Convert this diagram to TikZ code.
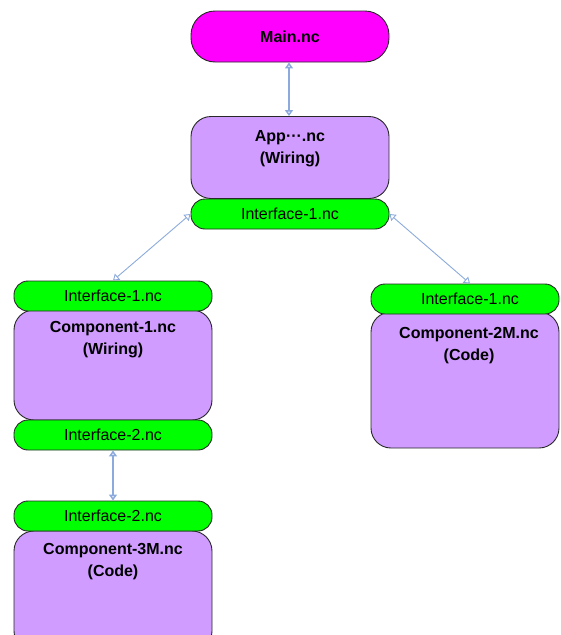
\documentclass[tikz,border=0pt]{standalone}
\usepackage{fontspec}
\setmainfont{Liberation Sans}
\usetikzlibrary{arrows.meta}
\definecolor{mag}{RGB}{255,0,255}
\definecolor{lav}{RGB}{208,156,255}
\definecolor{grn}{RGB}{0,255,0}
\definecolor{arr}{RGB}{140,170,220}
\definecolor{edge}{RGB}{40,40,40}
\tikzset{
  boxbase/.style={draw=edge, line width=0.9pt, inner sep=0pt, anchor=center},
  magbox/.style={boxbase, fill=mag, rounded corners=24pt, minimum width=198pt, minimum height=51pt,
    font=\fontsize{16}{22}\selectfont\bfseries},
  lavbox/.style={boxbase, fill=lav, rounded corners=20pt, minimum width=198pt},
  grnbox/.style={boxbase, fill=grn, rounded corners=14pt, minimum width=198pt, minimum height=30pt,
    font=\fontsize{16}{22}\selectfont},
  boxtext/.style={anchor=north, align=center, inner sep=0pt, font=\fontsize{16}{22}\selectfont\bfseries},
  link/.style={draw=arr, line width=0.9pt, {Triangle[open,length=6pt,width=8pt]}-{Triangle[open,length=6pt,width=8pt]}},
  thicklink/.style={link, line width=2pt}
}
\begin{document}
\begin{tikzpicture}[x=1pt,y=-1pt]
\useasboundingbox (0,0) rectangle (560,635);
\clip (0,0) rectangle (560,635);
% top
\node[magbox] (main) at (290,36.5) {Main.nc};
\node[lavbox, minimum height=82pt] (app) at (290,157.5) {};
\node[boxtext] (apptxt) at (290,130) {App···.nc\\(Wiring)};
\node[grnbox] (appif) at (290,214) {Interface-1.nc};
% left column
\node[lavbox, minimum height=110pt] (c1) at (113,365) {};
\node[grnbox] (c1if) at (113,296) {Interface-1.nc};
\node[boxtext] (c1txt) at (113,321) {Component-1.nc\\(Wiring)};
\node[grnbox] (c1if2) at (113,435) {Interface-2.nc};
\node[lavbox, minimum height=120pt] (c3) at (113,591) {};
\node[grnbox] (c3if) at (113,516) {Interface-2.nc};
\node[boxtext] (c3txt) at (113,543) {Component-3M.nc\\(Code)};
% right column
\node[lavbox, minimum width=188pt, minimum height=136pt] (c2) at (465,380) {};
\node[grnbox, minimum width=188pt] (c2if) at (465,299) {\hspace*{10pt}Interface-1.nc};
\node[boxtext] (c2txt) at (469,327) {Component-2M.nc\\(Code)};
% connectors
\draw[thicklink] (main.south -| 289,0) -- (app.north -| 289,0);
\draw[link] (appif.west) -- (c1if.north);
\draw[link] (appif.east) -- (c2if.north -| 470,0);
\draw[thicklink] (c1if2.south) -- (c3if.north);
\end{tikzpicture}
\end{document}
